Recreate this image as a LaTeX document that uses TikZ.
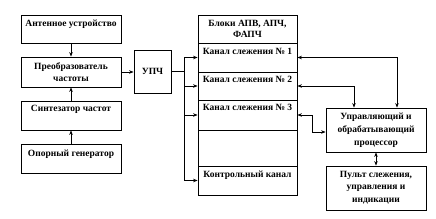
\documentclass[tikz,border=0pt]{standalone}
\usepackage{fontspec}
\setmainfont{Liberation Serif}
\usetikzlibrary{arrows.meta}
\begin{document}
\begin{tikzpicture}[x=1pt,y=-1pt,
  box/.style={draw, line width=0.8pt, inner sep=0pt},
  txt/.style={font=\bfseries\fontsize{9.5}{12.5}\selectfont, align=center, inner sep=0pt, anchor=base},
  arr/.style={-{Stealth[length=4.5pt,width=3.5pt]}, line width=0.7pt},
  darr/.style={{Stealth[length=4.5pt,width=3.5pt]}-{Stealth[length=4.5pt,width=3.5pt]}, line width=0.7pt}]
\useasboundingbox (0,0) rectangle (436,219);
% left column
\node[box, minimum width=100pt, minimum height=28pt] (ant) at (71,29) {};
\node[box, minimum width=100pt, minimum height=30pt] (preobr) at (71,72) {};
\node[box, minimum width=100pt, minimum height=29pt] (sint) at (71,115.5) {};
\node[box, minimum width=100pt, minimum height=29pt] (opor) at (71,158.5) {};
\node[txt] (tant) at (71,27) {Антенное устройство};
\node[txt] (tpreobr) at (71,82) {Преобразователь\\частоты};
\node[txt] (tsint) at (71,112) {Синтезатор частот};
\node[txt] (topor) at (71,156) {Опорный генератор};
% UPCh
\node[box, minimum width=37pt, minimum height=43pt] (upch) at (152.5,71.5) {};
\node[txt] (tupch) at (152.5,74.5) {УПЧ};
% middle column
\node[box, minimum width=99pt, minimum height=28pt] (top) at (247.5,29) {};
\node[box, minimum width=99pt, minimum height=29pt] (k1) at (247.5,57.5) {};
\node[box, minimum width=99pt, minimum height=28pt] (k2) at (247.5,86) {};
\node[box, minimum width=99pt, minimum height=30pt] (k3) at (247.5,115) {};
\node[box, minimum width=99pt, minimum height=36pt] (emp) at (247.5,148) {};
\node[box, minimum width=99pt, minimum height=29pt] (kon) at (247.5,180.5) {};
\node[txt] (ttop) at (247.5,38) {Блоки АПВ, АПЧ,\\[-1.5pt]ФАПЧ};
\node[txt] (tk1) at (247.5,55) {Канал слежения № 1};
\node[txt] (tk2) at (247.5,83) {Канал слежения № 2};
\node[txt] (tk3) at (247.5,111) {Канал слежения № 3};
\node[txt] (tkon) at (247.5,177) {Контрольный канал};
% right column
\node[box, minimum width=100pt, minimum height=44pt] (proc) at (376,130) {};
\node[box, minimum width=100pt, minimum height=44pt] (pult) at (376,188) {};
\node[txt] (tproc) at (376,145) {Управляющий и\\обрабатывающий\\процессор};
\node[txt] (tpult) at (376,202) {Пульт слежения,\\управления и\\индикации};
% connectors
\draw[arr] (ant) -- (preobr);
\draw[arr] (sint) -- (preobr);
\draw[arr] (opor) -- (sint);
\draw[arr] (preobr.east) -- (preobr.east -| upch.west);
\coordinate (bt) at (184,57.5);
\draw[line width=0.7pt] (upch.east) -- (upch.east -| bt);
\draw[line width=0.7pt] (k1.west -| bt) -- (kon.west -| bt);
\draw[arr] (k1.west -| bt) -- (k1.west);
\draw[arr] (k2.west -| bt) -- (k2.west);
\draw[arr] (k3.west -| bt) -- (k3.west);
\draw[arr] (kon.west -| bt) -- (kon.west);
\draw[darr] (k1.east) -| ([xshift=21pt]proc.north);
\draw[darr] (k2.east) -| ([xshift=-22pt]proc.north);
\draw[darr] (k3.east) -- ++(15,0) |- ([yshift=-2pt]proc.west);
\draw[darr] (proc) -- (pult);
\end{tikzpicture}
\end{document}
